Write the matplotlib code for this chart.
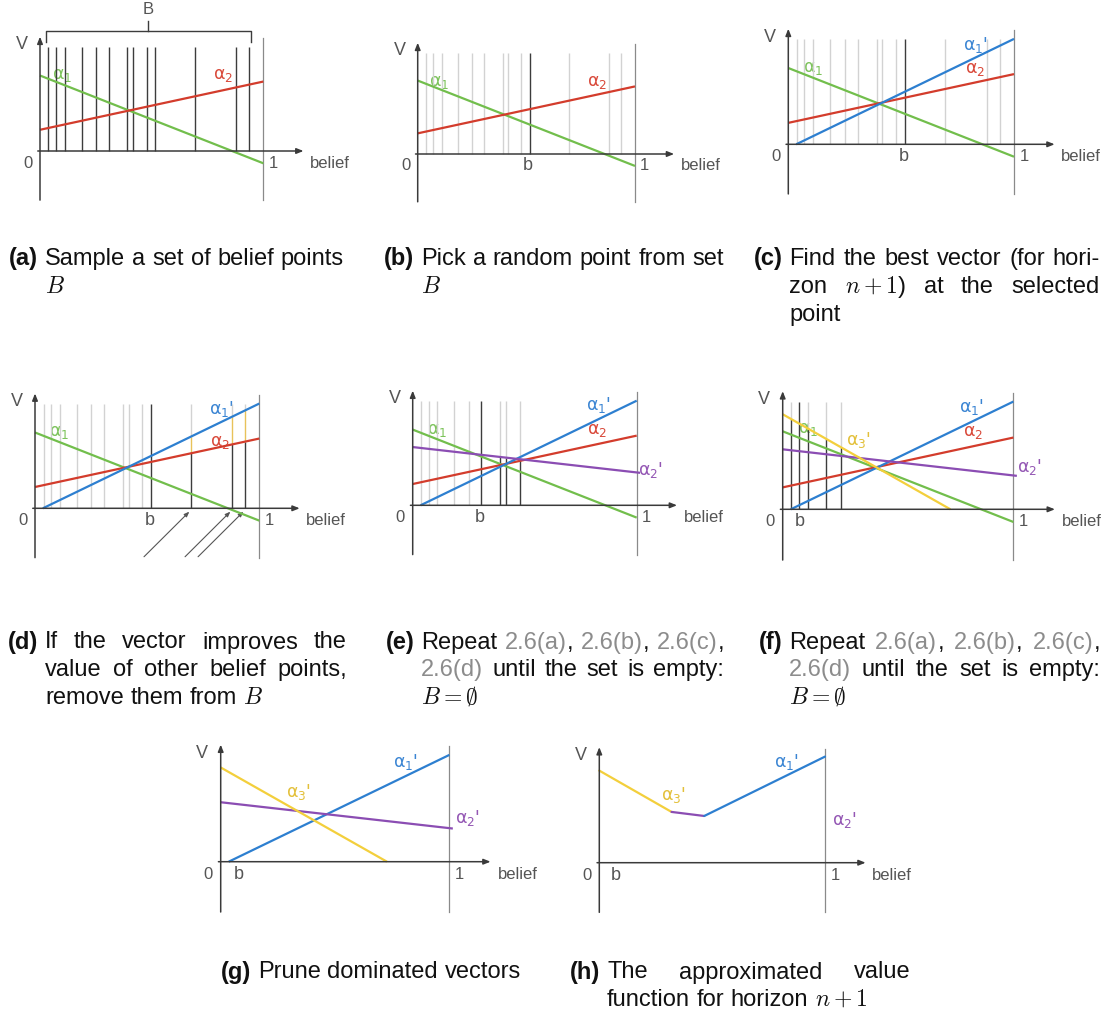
import re
import numpy as np
import matplotlib
matplotlib.use("Agg")
import matplotlib.pyplot as plt

plt.rcParams['font.family'] = ['Liberation Sans', 'DejaVu Sans']

# ---------------- data ----------------
B_POINTS = [0.038, 0.071, 0.11, 0.186, 0.251, 0.307, 0.391, 0.417, 0.477,
            0.517, 0.696, 0.879, 0.937]
LINE_TOP = 0.465

ALPHA1_X, ALPHA1_V = [0.0, 1.0], [0.338, -0.055]
ALPHA2_X, ALPHA2_V = [0.0, 1.0], [0.095, 0.311]
ALPHA1P_X, ALPHA1P_V = [0.035, 1.0], [0.0, 0.467]
ALPHA2P_X, ALPHA2P_V = [0.0, 1.015], [0.26, 0.145]
ALPHA3P_X, ALPHA3P_V = [0.0, 0.727], [0.412, 0.0]

ENV_X = [0.0, 0.32, 0.465, 1.0]
ENV_V = [0.408, 0.225, 0.207, 0.470]

B_SELECTED = {'b': 0.517, 'c': 0.517, 'd': 0.517, 'e': 0.307, 'f': 0.071}
IMPROVED_D = [0.696, 0.879, 0.937]
IMPROVED_E = [0.391, 0.417, 0.477]
IMPROVED_F = [0.038, 0.11, 0.186, 0.251]
REMAINING_E = [0.038, 0.071, 0.11, 0.186, 0.251]

# ---------------- style / layout ----------------
W, H = 1112, 1015
GREEN, RED, BLUE, PURPLE, YELLOW = '#72be4c', '#d33c2c', '#2d7fd0', '#8b4db3', '#f3cf3c'
LGREEN, LRED, LBLUE, LPURPLE, LYELLOW = '#7cc35a', '#d9493a', '#3b85d3', '#9457b4', '#e3c03a'
DARK, LIGHT, AXIS, ONE, LABEL = '#3c3c3c', '#d2d2d2', '#3a3a3a', '#8a8a8a', '#555555'
GRAYREF = '#8c8c8c'

PANEL_GEOM = {
    'a': (40, 151, 223.3), 'b': (417.7, 154, 217.3), 'c': (788.3, 144.3, 225.7),
    'd': (35, 508.3, 224.3), 'e': (412.7, 505.3, 224), 'f': (782.7, 509.3, 230.7),
    'g': (220.7, 861.7, 228.7), 'h': (599.3, 862.7, 225.7),
}
B_LABEL_X = {'b': 0.505, 'c': 0.51, 'd': 0.51, 'e': 0.30, 'f': 0.075, 'g': 0.077, 'h': 0.074}

A1, A2 = r"$\mathregular{\alpha_1}$", r"$\mathregular{\alpha_2}$"
A1P, A2P, A3P = A1 + "'", A2 + "'", r"$\mathregular{\alpha_3}$'"
VEC_LABELS = {
    'a': [(A1, LGREEN, 0.10, 0.34), (A2, LRED, 0.82, 0.34)],
    'b': [(A1, LGREEN, 0.10, 0.333), (A2, LRED, 0.827, 0.333)],
    'c': [(A1, LGREEN, 0.111, 0.337), (A1P, LBLUE, 0.83, 0.44), (A2, LRED, 0.827, 0.333)],
    'd': [(A1, LGREEN, 0.107, 0.342), (A1P, LBLUE, 0.83, 0.441), (A2, LRED, 0.825, 0.297)],
    'e': [(A1, LGREEN, 0.11, 0.336), (A1P, LBLUE, 0.83, 0.448), (A2, LRED, 0.824, 0.336),
          (A2P, LPURPLE, 1.06, 0.158)],
    'f': [(A1, LGREEN, 0.111, 0.35), (A3P, LYELLOW, 0.33, 0.30), (A1P, LBLUE, 0.82, 0.445),
          (A2, LRED, 0.826, 0.336), (A2P, LPURPLE, 1.07, 0.182)],
    'g': [(A3P, LYELLOW, 0.34, 0.306), (A1P, LBLUE, 0.81, 0.437), (A2P, LPURPLE, 1.08, 0.19)],
    'h': [(A3P, LYELLOW, 0.33, 0.30), (A1P, LBLUE, 0.83, 0.444), (A2P, LPURPLE, 1.085, 0.189)],
}

fig = plt.figure(figsize=(W / 100, H / 100), dpi=100)


def make_ax(key):
    ox, oy, u = PANEL_GEOM[key]
    x0, x1, v0, v1 = -0.25, 1.45, -0.32, 0.7
    left, right = ox + x0 * u, ox + x1 * u
    top, bottom = oy - v1 * u, oy - v0 * u
    ax = fig.add_axes([left / W, 1 - bottom / H, (right - left) / W, (bottom - top) / H])
    ax.set_xlim(x0, x1)
    ax.set_ylim(v0, v1)
    ax.axis('off')
    return ax


def frame(ax, key):
    ax.plot([1, 1], [-0.22, 0.505], color=ONE, lw=0.9, zorder=1)
    ap = dict(arrowstyle='-|>,head_length=0.45,head_width=0.18', color=AXIS, lw=1.1,
              shrinkA=0, shrinkB=0, mutation_scale=9)
    ax.annotate('', xy=(1.18, 0), xytext=(-0.01, 0), arrowprops=ap, zorder=4)
    ax.annotate('', xy=(0, 0.512), xytext=(0, -0.22), arrowprops=ap, zorder=4)
    kw = dict(color=LABEL, fontsize=12, va='center')
    ax.text(-0.08, 0.475, 'V', ha='center', fontsize=13, color=LABEL, va='center')
    ax.text(-0.055, -0.055, '0', ha='center', **kw)
    ax.text(1.045, -0.055, '1', ha='center', **kw)
    ax.text(1.21, -0.055, 'belief', ha='left', **kw)
    if key in B_LABEL_X:
        ax.text(B_LABEL_X[key], -0.055, 'b', ha='center', color=LABEL, fontsize=13, va='center')
    for s, c, x, y in VEC_LABELS[key]:
        ax.text(x, y, s, color=c, fontsize=12.5, ha='center', va='center', family='DejaVu Sans',
                zorder=2)


def vec(ax, xs, vs, color):
    ax.plot(xs, vs, color=color, lw=1.6, solid_capstyle='butt', zorder=3)


def vline(ax, x, v0, v1, color, lw=1.0):
    ax.plot([x, x], [v0, v1], color=color, lw=lw, solid_capstyle='butt', zorder=2)


def val(xs, vs, p):
    return float(np.interp(p, xs, vs))


# ---- (a)
ax = make_ax('a')
frame(ax, 'a')
for p in B_POINTS:
    vline(ax, p, 0, LINE_TOP, DARK)
vec(ax, ALPHA1_X, ALPHA1_V, GREEN)
vec(ax, ALPHA2_X, ALPHA2_V, RED)
bx0, bx1 = min(B_POINTS) - 0.012, max(B_POINTS) + 0.007
ax.plot([bx0, bx0, bx1, bx1], [0.488, 0.537, 0.537, 0.488], color=DARK, lw=1.0)
ax.plot([(bx0 + bx1) / 2] * 2, [0.537, 0.582], color=DARK, lw=1.0)
ax.text((bx0 + bx1) / 2, 0.632, 'B', ha='center', va='center', fontsize=12, color=LABEL)

# ---- (b) and (c)
for key in ['b', 'c']:
    ax = make_ax(key)
    frame(ax, key)
    for p in B_POINTS:
        if p == B_SELECTED[key]:
            vline(ax, p, 0, LINE_TOP, DARK)
        else:
            vline(ax, p, 0, LINE_TOP, LIGHT)
    vec(ax, ALPHA1_X, ALPHA1_V, GREEN)
    vec(ax, ALPHA2_X, ALPHA2_V, RED)
    if key == 'c':
        vec(ax, ALPHA1P_X, ALPHA1P_V, BLUE)

# ---- (d)
ax = make_ax('d')
frame(ax, 'd')
for p in B_POINTS:
    if p < B_SELECTED['d']:
        vline(ax, p, 0, LINE_TOP, LIGHT)
vline(ax, B_SELECTED['d'], 0, LINE_TOP, DARK)
for p in IMPROVED_D:
    vb = val(ALPHA1P_X, ALPHA1P_V, p)
    vr = val(ALPHA2_X, ALPHA2_V, p)
    vline(ax, p, vb, LINE_TOP, LIGHT)
    vline(ax, p, vr, vb, '#e8c25a')
    vline(ax, p, 0, vr, DARK)
    ax.annotate('', xy=(p - 0.008, -0.015), xytext=(p - 0.21, -0.216),
                arrowprops=dict(arrowstyle='-|>,head_length=0.5,head_width=0.2', color='#555555',
                                lw=0.8, shrinkA=0, shrinkB=0, mutation_scale=6))
vec(ax, ALPHA1_X, ALPHA1_V, GREEN)
vec(ax, ALPHA2_X, ALPHA2_V, RED)
vec(ax, ALPHA1P_X, ALPHA1P_V, BLUE)

# ---- (e)
ax = make_ax('e')
frame(ax, 'e')
for p in REMAINING_E:
    vline(ax, p, 0, LINE_TOP, LIGHT)
vline(ax, B_SELECTED['e'], 0, LINE_TOP, DARK)
for p in IMPROVED_E:
    vp = val(ALPHA2P_X, ALPHA2P_V, p)
    vline(ax, p, vp, LINE_TOP, LIGHT)
    vline(ax, p, 0, vp, DARK)
vec(ax, ALPHA1_X, ALPHA1_V, GREEN)
vec(ax, ALPHA2_X, ALPHA2_V, RED)
vec(ax, ALPHA1P_X, ALPHA1P_V, BLUE)
vec(ax, ALPHA2P_X, ALPHA2P_V, PURPLE)

# ---- (f)
ax = make_ax('f')
frame(ax, 'f')
vline(ax, B_SELECTED['f'], 0, LINE_TOP, DARK)
for p in IMPROVED_F:
    vy = val(ALPHA3P_X, ALPHA3P_V, p)
    vline(ax, p, vy, LINE_TOP, LIGHT)
    vline(ax, p, 0, vy, DARK)
vec(ax, ALPHA1_X, ALPHA1_V, GREEN)
vec(ax, ALPHA2_X, ALPHA2_V, RED)
vec(ax, ALPHA1P_X, ALPHA1P_V, BLUE)
vec(ax, ALPHA2P_X, ALPHA2P_V, PURPLE)
vec(ax, ALPHA3P_X, ALPHA3P_V, YELLOW)

# ---- (g)
ax = make_ax('g')
frame(ax, 'g')
vec(ax, ALPHA1P_X, ALPHA1P_V, BLUE)
vec(ax, ALPHA2P_X, ALPHA2P_V, PURPLE)
vec(ax, ALPHA3P_X, ALPHA3P_V, YELLOW)

# ---- (h)
ax = make_ax('h')
frame(ax, 'h')
for i, c in enumerate([YELLOW, PURPLE, BLUE]):
    ax.plot(ENV_X[i:i + 2], ENV_V[i:i + 2], color=c, lw=1.6, solid_capstyle='round', zorder=3)

# ---------------- captions ----------------
CAP_FS = 17
renderer = fig.canvas.get_renderer()


def fx(px):
    return px / W


def fy(py):
    return 1 - py / H


def mk(s, color='#111111', weight='normal', y=0):
    return fig.text(0, fy(y), s, color=color, fontweight=weight, fontsize=CAP_FS,
                    ha='left', va='baseline', math_fontfamily='cm')


def width(t):
    return t.get_window_extent(renderer=renderer).width


_t1, _t2 = mk('x x'), mk('xx')
SPACE_W = width(_t1) - width(_t2)
_t1.remove()
_t2.remove()


def place_line(x0, yb, line, right=None):
    words = line.split(' ')
    objs, widths = [], []
    for w in words:
        pieces = []
        for part in re.split(r'(\{[^}]*\})', w):
            if not part:
                continue
            if part.startswith('{'):
                t = mk(part[1:-1], GRAYREF, y=yb)
            else:
                t = mk(part, y=yb)
            pieces.append((t, width(t)))
        objs.append(pieces)
        widths.append(sum(pw for _, pw in pieces))
    if right is not None and len(words) > 1:
        gap = (right - x0 - sum(widths)) / (len(words) - 1)
    else:
        gap = SPACE_W
    x = x0
    for pieces in objs:
        for t, pw in pieces:
            t.set_x(fx(x))
            x += pw
        x += gap


CAPTIONS = [
    ('(a)', 45, 344, 265.5, ["Sample a set of belief points", "$B$"]),
    ('(b)', 421, 724, 265.5, ["Pick a random point from set", "$B$"]),
    ('(c)', 789, 1100, 265.5, ["Find the best vector (for hori-", "zon $n+1$) at the selected", "point"]),
    ('(d)', 45, 347, 648.5, ["If the vector improves the", "value of other belief points,",
                             "remove them from $B$"]),
    ('(e)', 421, 724, 648.5, ["Repeat {2.6(a)}, {2.6(b)}, {2.6(c)},", "{2.6(d)} until the set is empty:",
                              r"$B=\emptyset$"]),
    ('(f)', 789, 1100, 648.5, ["Repeat {2.6(a)}, {2.6(b)}, {2.6(c)},", "{2.6(d)} until the set is empty:",
                               r"$B=\emptyset$"]),
    ('(g)', 258, None, 978.5, ["Prune dominated vectors"]),
    ('(h)', 607, 911, 978.5, ["The approximated value", "function for horizon $n+1$"]),
]
LINE_STEP = 27.5

for lab, indent, right, yb, lines in CAPTIONS:
    t = mk(lab, weight='bold', y=yb)
    t.set_x(fx(indent - width(t) - SPACE_W))
    for i, line in enumerate(lines):
        last = i == len(lines) - 1
        place_line(indent, yb + i * LINE_STEP, line, None if last else right)

fig.savefig('out.png', dpi=100)
